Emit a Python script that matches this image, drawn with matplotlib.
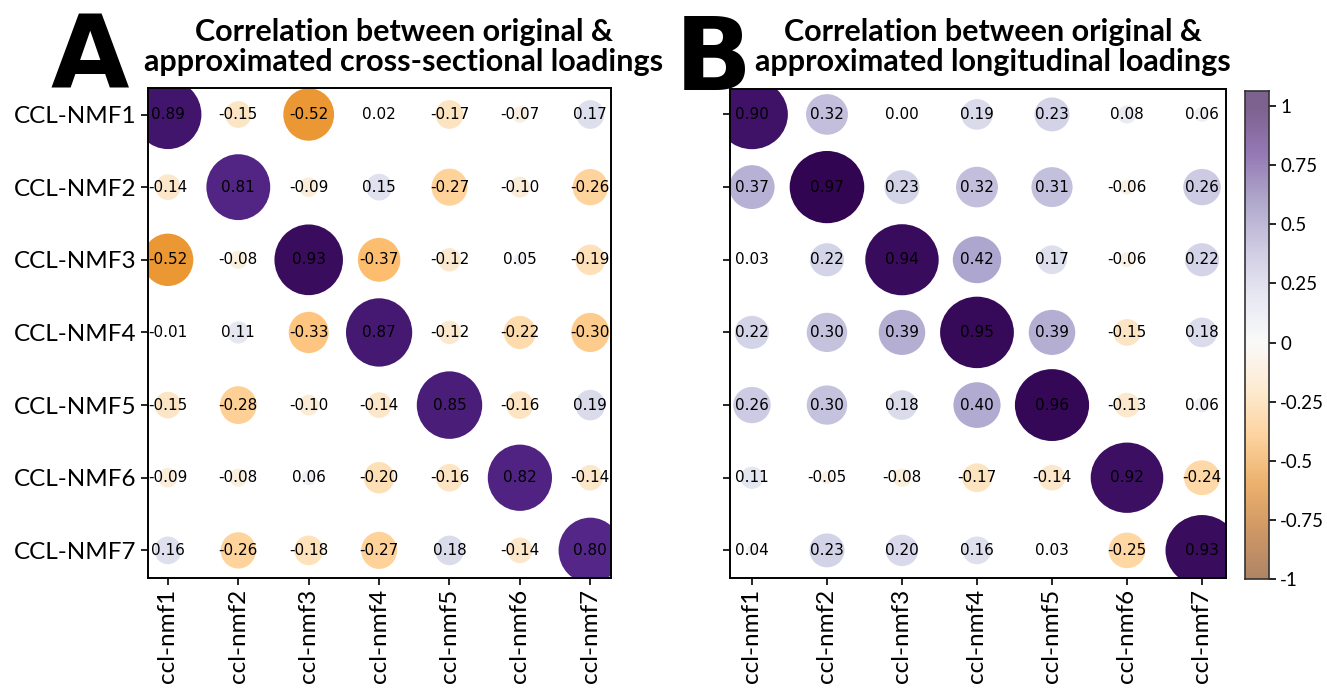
import numpy as np
import matplotlib
matplotlib.use("Agg")
import matplotlib.pyplot as plt
from matplotlib.patches import Ellipse
from matplotlib.colors import Normalize

# ---------------- data ----------------
row_labels = ["CCL-NMF1", "CCL-NMF2", "CCL-NMF3", "CCL-NMF4", "CCL-NMF5", "CCL-NMF6", "CCL-NMF7"]
col_labels = ["ccl-nmf1", "ccl-nmf2", "ccl-nmf3", "ccl-nmf4", "ccl-nmf5", "ccl-nmf6", "ccl-nmf7"]

cross_sectional = [
    [0.89, -0.15, -0.52, 0.02, -0.17, -0.07, 0.17],
    [-0.14, 0.81, -0.09, 0.15, -0.27, -0.10, -0.26],
    [-0.52, -0.08, 0.93, -0.37, -0.12, 0.05, -0.19],
    [-0.01, 0.11, -0.33, 0.87, -0.12, -0.22, -0.30],
    [-0.15, -0.28, -0.10, -0.14, 0.85, -0.16, 0.19],
    [-0.09, -0.08, 0.06, -0.20, -0.16, 0.82, -0.14],
    [0.16, -0.26, -0.18, -0.27, 0.18, -0.14, 0.80],
]
longitudinal = [
    [0.90, 0.32, 0.00, 0.19, 0.23, 0.08, 0.06],
    [0.37, 0.97, 0.23, 0.32, 0.31, -0.06, 0.26],
    [0.03, 0.22, 0.94, 0.42, 0.17, -0.06, 0.22],
    [0.22, 0.30, 0.39, 0.95, 0.39, -0.15, 0.18],
    [0.26, 0.30, 0.18, 0.40, 0.96, -0.13, 0.06],
    [0.11, -0.05, -0.08, -0.17, -0.14, 0.92, -0.24],
    [0.04, 0.23, 0.20, 0.16, 0.03, -0.25, 0.93],
]
title_a = "Correlation between original &\napproximated cross-sectional loadings"
title_b = "Correlation between original &\napproximated longitudinal loadings"
cbar_ticks = [1, 0.75, 0.5, 0.25, 0, -0.25, -0.5, -0.75, -1]
cbar_ticklabels = ["1", "0.75", "0.5", "0.25", "0", "-0.25", "-0.5", "-0.75", "-1"]

# ---------------- figure ----------------
W, H = 1327, 693
fig = plt.figure(figsize=(W / 100, H / 100), dpi=100)
cmap = plt.get_cmap("PuOr")
norm = Normalize(vmin=-1, vmax=1)
label_font = "Lato"


def px_axes(left, top, right, bottom):
    return fig.add_axes([left / W, (H - bottom) / H, (right - left) / W, (bottom - top) / H])


def draw_panel(ax, data, xlim, ylim, show_ylabels):
    data = np.asarray(data)
    n_r, n_c = data.shape
    for i in range(n_r):
        for j in range(n_c):
            v = data[i, j]
            d = 1.02 * np.sqrt(max(abs(v) - 0.02, 0.0))
            if d > 0:
                ax.add_patch(Ellipse((j, i), d, d, facecolor=cmap(norm(v)),
                                     edgecolor="none", zorder=2))
            ax.text(j, i, f"{v:.2f}", ha="center", va="center", fontsize=11,
                    color="black", family="DejaVu Sans", zorder=3)
    ax.set_xlim(*xlim)
    ax.set_ylim(*ylim)
    ax.set_xticks(range(n_c))
    ax.set_xticklabels(col_labels, rotation=90, family=label_font, fontsize=17.5)
    ax.set_yticks(range(n_r))
    if show_ylabels:
        ax.set_yticklabels(row_labels, family=label_font, fontsize=17.5)
    else:
        ax.set_yticklabels([])
    ax.tick_params(length=5, width=1.2, color="black", pad=3)
    for s in ax.spines.values():
        s.set_linewidth(1.4)
        s.set_color("black")


ax_a = px_axes(147.5, 88, 610.7, 578)
draw_panel(ax_a, cross_sectional, (-0.29, 6.29), (6.38, -0.365), True)

ax_b = px_axes(730, 89, 1225.7, 578)
draw_panel(ax_b, longitudinal, (-0.293, 6.316), (6.38, -0.35), False)

# ---------------- colorbar ----------------
ax_c = px_axes(1245, 90.7, 1269, 579)
top_val = 1.065
grad = np.linspace(-1, top_val, 512).reshape(-1, 1)
ax_c.imshow(grad, cmap=cmap, norm=norm, alpha=0.62, aspect="auto",
            extent=(0, 1, -1, top_val), origin="lower", interpolation="bilinear")
ax_c.set_xlim(0, 1)
ax_c.set_ylim(-1, top_val)
ax_c.set_xticks([])
ax_c.yaxis.tick_right()
ax_c.set_yticks(cbar_ticks)
ax_c.set_yticklabels(cbar_ticklabels, family=label_font, fontsize=13.5)
ax_c.tick_params(axis="y", length=5, width=1.2, pad=3)
for s in ax_c.spines.values():
    s.set_linewidth(1.2)
    s.set_color("#333333")

# ---------------- titles / panel letters ----------------
fig.text(404 / W, 1 - 47 / H, title_a, ha="center", va="center", fontsize=22,
         fontweight="bold", family=label_font, linespacing=1.12)
fig.text(993 / W, 1 - 47 / H, title_b, ha="center", va="center", fontsize=22,
         fontweight="bold", family=label_font, linespacing=1.12)
fig.text(90 / W, 1 - 88 / H, "A", ha="center", va="baseline", fontsize=73,
         fontweight="heavy", family="DejaVu Sans")
fig.text(713 / W, 1 - 90 / H, "B", ha="center", va="baseline", fontsize=73,
         fontweight="heavy", family="DejaVu Sans")

fig.savefig("out.png", dpi=100)
